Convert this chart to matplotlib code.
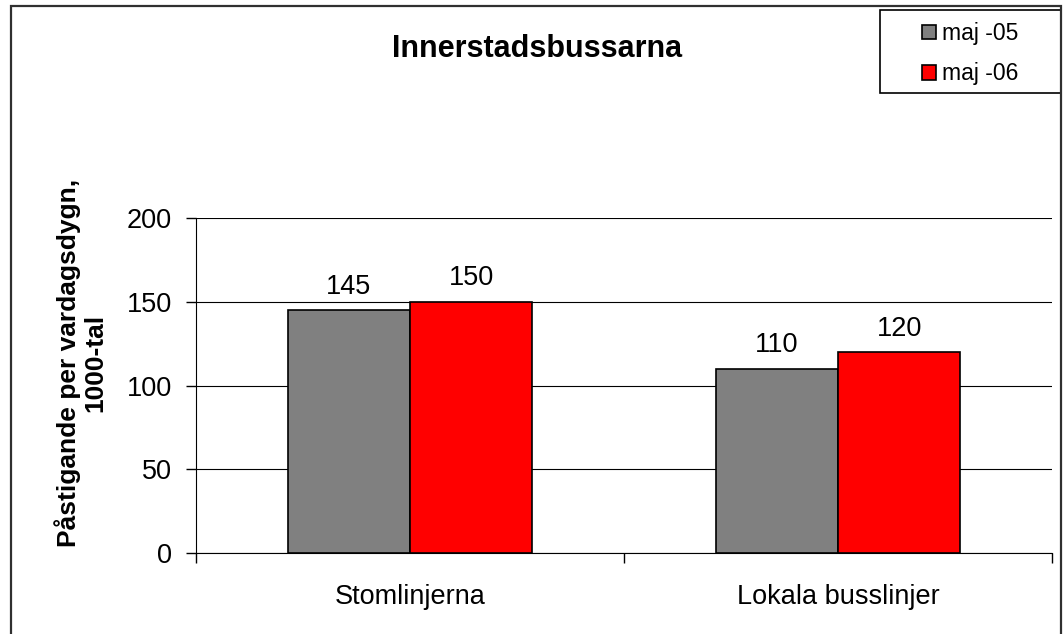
import matplotlib
matplotlib.use("Agg")
import matplotlib.pyplot as plt
import numpy as np
from matplotlib.patches import Rectangle

plt.rcParams['font.family'] = ['Liberation Sans', 'DejaVu Sans']

categories = ["Stomlinjerna", "Lokala busslinjer"]
series_names = ["maj -05", "maj -06"]
values_05 = [145, 110]
values_06 = [150, 120]
colors = ["#808080", "#FF0000"]
yticks = [0, 50, 100, 150, 200]

W, H = 1064, 634
fig = plt.figure(figsize=(W / 100, H / 100), dpi=100)
ax = fig.add_axes([196 / W, 1 - 553 / H, (1052 - 196) / W, (553 - 218) / H])

x = np.arange(len(categories))
bw = 0.286
bars1 = ax.bar(x - bw / 2, values_05, bw, color=colors[0], edgecolor='black', linewidth=1.2, label=series_names[0], zorder=3)
bars2 = ax.bar(x + bw / 2, values_06, bw, color=colors[1], edgecolor='black', linewidth=1.2, label=series_names[1], zorder=3)

for bars, vals in ((bars1, values_05), (bars2, values_06)):
    for b, v in zip(bars, vals):
        ax.annotate(f"{v}", (b.get_x() + b.get_width() / 2, v), xytext=(0, 7.5), textcoords='offset points',
                    ha='center', va='bottom', fontsize=19.5)

ax.set_xlim(-0.5, 1.5)
ax.set_ylim(0, 200)
ax.set_yticks(yticks)
ax.set_yticklabels([str(t) for t in yticks], fontsize=19.5)
ax.yaxis.grid(True, color='black', linewidth=0.8, zorder=0)
ax.set_axisbelow(True)
ax.set_xticks([-0.5, 0.5, 1.5])
ax.set_xticklabels([])
ax.set_xticks(x, minor=True)
ax.set_xticklabels(categories, minor=True, fontsize=19.5)
ax.tick_params(axis='x', which='minor', length=0, pad=22)
ax.tick_params(axis='x', which='major', length=7.2, direction='out', color='black', width=1)
ax.tick_params(axis='y', length=7.2, direction='out', pad=10, width=1)
for s in ('top', 'right'):
    ax.spines[s].set_visible(False)
ax.spines['left'].set_color('black')
ax.spines['bottom'].set_color('black')

fig.text(81 / W, 1 - 363 / H, "Påstigande per vardagsdygn,\n1000-tal", rotation=90, ha='center', va='center',
         multialignment='center', fontsize=19, fontweight='bold', linespacing=1.15)

fig.text(537 / W, 1 - 49 / H, "Innerstadsbussarna", ha='center', va='center', fontsize=22, fontweight='bold')

# legend frame and entries
fig.patches.append(Rectangle((880 / W, 1 - 93 / H), (1061 - 880) / W, (93 - 10) / H, transform=fig.transFigure,
                             fill=False, edgecolor='black', linewidth=1.2))
leg = fig.legend(handles=[bars1, bars2], labels=series_names, loc='upper left',
                 bbox_to_anchor=(922 / W, 1 - 22 / H), fontsize=16.5, frameon=False,
                 handlelength=0.62, handleheight=0.62, handletextpad=0.25,
                 borderpad=0, labelspacing=0.75, borderaxespad=0)

fig.patches.append(Rectangle((11 / W, 1 - 645 / H), (1061 - 11) / W, (645 - 6) / H, transform=fig.transFigure,
                             fill=False, edgecolor='#303030', linewidth=1.6))

fig.savefig("out.png", dpi=100)
